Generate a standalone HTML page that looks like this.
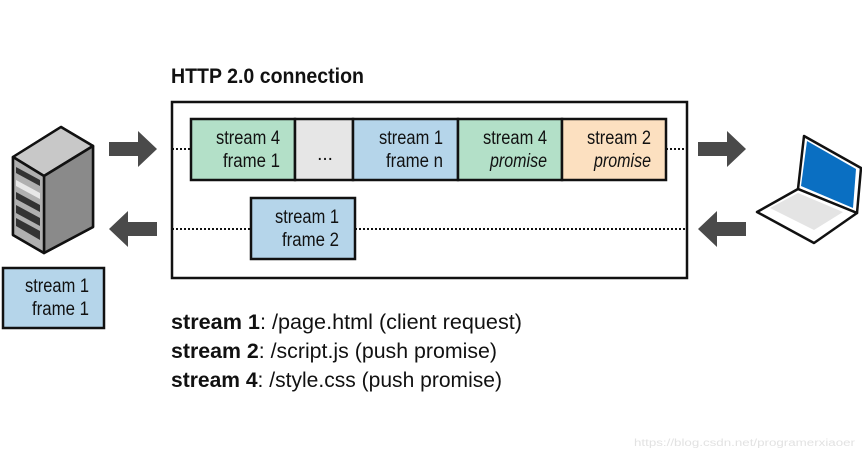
<!DOCTYPE html>
<html><head><style>
html,body{margin:0;padding:0;background:#fff;}
svg{display:block;}
text{font-family:"Liberation Sans",sans-serif;}
</style></head><body>
<svg width="862" height="454" viewBox="0 0 862 454" xmlns="http://www.w3.org/2000/svg">
<text x="171" y="83" font-size="21" font-weight="bold" fill="#111" textLength="193" lengthAdjust="spacingAndGlyphs">HTTP 2.0 connection</text>
<rect x="172" y="102" width="515" height="176" fill="#fff" stroke="#111" stroke-width="2.5"/>
<g stroke="#111" stroke-width="2" stroke-dasharray="2,2">
<line x1="172" y1="149" x2="191" y2="149"/>
<line x1="666" y1="149" x2="687" y2="149"/>
<line x1="172" y1="229" x2="251" y2="229"/>
<line x1="355" y1="229" x2="687" y2="229"/>
</g>
<g stroke="#111" stroke-width="2.5">
<rect x="191" y="119" width="104" height="61" fill="#b3e0c8"/>
<rect x="295" y="119" width="58" height="61" fill="#e6e6e6"/>
<rect x="353" y="119" width="105" height="61" fill="#b5d5ea"/>
<rect x="458" y="119" width="104" height="61" fill="#b3e0c8"/>
<rect x="562" y="119" width="104" height="61" fill="#fce0c0"/>
<rect x="251" y="198" width="104" height="61" fill="#b5d5ea"/>
<rect x="3" y="268" width="101" height="60" fill="#b5d5ea"/>
</g>
<g font-size="19" fill="#111" text-anchor="end" lengthAdjust="spacingAndGlyphs">
<text x="280" y="144" textLength="64" lengthAdjust="spacingAndGlyphs">stream 4</text><text x="280" y="167" textLength="57" lengthAdjust="spacingAndGlyphs">frame 1</text>
<text x="325" y="160" text-anchor="middle">...</text>
<text x="443" y="144" textLength="64" lengthAdjust="spacingAndGlyphs">stream 1</text><text x="443" y="167" textLength="57" lengthAdjust="spacingAndGlyphs">frame n</text>
<text x="547" y="144" textLength="64" lengthAdjust="spacingAndGlyphs">stream 4</text><text x="547" y="167" font-style="italic" textLength="57" lengthAdjust="spacingAndGlyphs">promise</text>
<text x="651" y="144" textLength="64" lengthAdjust="spacingAndGlyphs">stream 2</text><text x="651" y="167" font-style="italic" textLength="57" lengthAdjust="spacingAndGlyphs">promise</text>
<text x="339" y="223" textLength="64" lengthAdjust="spacingAndGlyphs">stream 1</text><text x="339" y="246" textLength="57" lengthAdjust="spacingAndGlyphs">frame 2</text>
<text x="89" y="292" textLength="64" lengthAdjust="spacingAndGlyphs">stream 1</text><text x="89" y="315" textLength="57" lengthAdjust="spacingAndGlyphs">frame 1</text>
</g>
<g fill="#4a4a4a">
<polygon points="109,142 138,142 138,131 157,149 138,167 138,156 109,156"/>
<polygon points="157,222 128,222 128,211 109,229 128,247 128,236 157,236"/>
<polygon points="698,142 727,142 727,131 746,149 727,167 727,156 698,156"/>
<polygon points="746,222 717,222 717,211 698,229 717,247 717,236 746,236"/>
</g>
<g stroke="#111" stroke-width="2.5" stroke-linejoin="round">
<polygon points="13,157 61,127 93,146 93,227 44,253 13,235" fill="#999"/>
<polygon points="13,157 61,127 93,146 44,176" fill="#c8c8c8"/>
<polygon points="44,176 93,146 93,227 44,253" fill="#8a8a8a"/>
<polygon points="13,157 44,176 44,253 13,235" fill="#b0b0b0"/>
</g>
<g fill="#333">
<polygon points="16,167 40,180 40,186 16,173"/>
<polygon points="16,192 40,205 40,212 16,199"/>
<polygon points="16,205 40,218 40,226 16,213"/>
<polygon points="16,218 40,231 40,240 16,226"/>
</g>
<polygon points="16,180 40,193 40,199 16,186" fill="#e8e8e8"/>
<g stroke="#111" stroke-width="2.5" stroke-linejoin="round">
<polygon points="804,136 861,168 857,213 798,189" fill="#fff"/>
<polygon points="807,141 856,169 853,208 801,186" fill="#0a6fc2" stroke="none"/>
<polygon points="798,189 857,213 814,243 757,212" fill="#fff"/>
<polygon points="770,208 798,193 843,212 814,230" fill="#e4e4e4" stroke="none"/>
</g>
<g font-size="21" fill="#111">
<text x="171" y="329" textLength="351" lengthAdjust="spacingAndGlyphs"><tspan font-weight="bold">stream 1</tspan>: /page.html  (client request)</text>
<text x="171" y="358" textLength="326" lengthAdjust="spacingAndGlyphs"><tspan font-weight="bold">stream 2</tspan>: /script.js  (push promise)</text>
<text x="171" y="387" textLength="331" lengthAdjust="spacingAndGlyphs"><tspan font-weight="bold">stream 4</tspan>: /style.css  (push promise)</text>
</g>
<text x="634" y="446" font-family="Liberation Mono,monospace" font-size="10" fill="#e2e2e2" textLength="221" lengthAdjust="spacingAndGlyphs">https://blog.csdn.net/programerxiaoer</text>
</svg>
</body></html>
